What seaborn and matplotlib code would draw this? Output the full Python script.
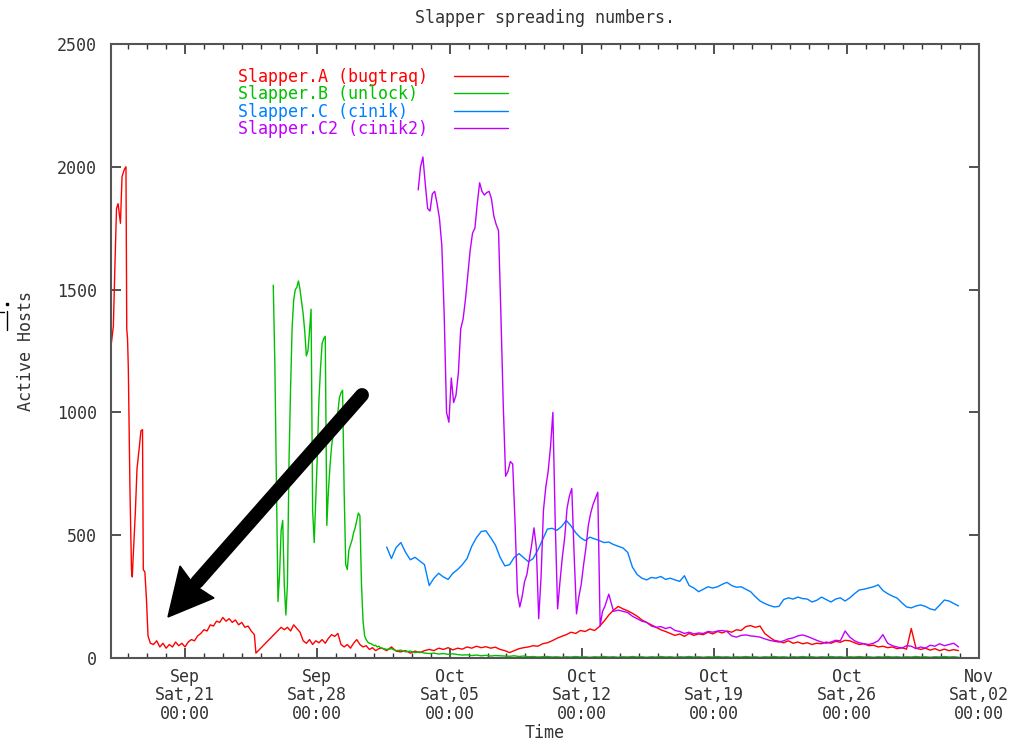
import pandas as pd
import matplotlib
matplotlib.use("Agg")
import matplotlib.pyplot as plt
import matplotlib.dates as mdates
from matplotlib.lines import Line2D
from matplotlib.patches import Polygon
import seaborn as sns

start = pd.Timestamp("2002-09-17 00:00")

# hours since start / number of active hosts
a_hours = ([2, 5, 7, 9, 11, 14, 16, 19, 21, 22, 23, 24, 26, 28, 29, 30, 33, 35, 38, 40, 42, 43, 45, 47, 49, 52]
           + list(range(56, 188, 4)) + [186]
           + list(range(218, 346, 4))
           + list(range(346, 1079, 6)))
a_hosts = [1270, 1350, 1600, 1830, 1850, 1770, 1960, 1990, 2000, 1340, 1300, 1180, 700, 360, 330, 400,
           600, 770, 860, 925, 930, 360, 350, 240, 90, 60,
           55, 70, 45, 60, 40, 55, 45, 65, 50, 60, 45, 65, 75, 70, 90, 100, 115, 110, 135, 130,
           150, 145, 165, 150, 160, 145, 155, 135, 145, 125, 130, 110, 95, 20,
           125, 115, 125, 110, 135, 120, 105, 70, 60, 75, 55, 70, 62, 75, 60, 80, 95, 88, 100, 55,
           45, 55, 40, 60, 75, 55, 45, 50, 35, 42, 30, 38,
           40, 30, 45, 28, 25, 30, 20, 28, 22, 30, 35, 30, 40, 35, 42, 33, 40, 36, 45, 40,
           48, 42, 46, 40, 44, 35, 30, 22, 30, 38, 42, 45, 50, 48, 58, 62, 70, 80, 88, 95,
           105, 100, 112, 108, 118, 112, 128, 150, 175, 195, 210, 200, 192, 182, 170, 155, 145, 135, 125, 115,
           108, 100, 92, 98, 88, 100, 92, 98, 95, 105, 98, 108, 102, 110, 105, 115, 112, 128, 132, 125,
           130, 100, 85, 72, 68, 62, 70, 60, 65, 58, 62, 55, 60, 58, 65, 60, 68, 64, 72, 70,
           62, 55, 58, 50, 52, 45, 48, 42, 45, 38, 42, 36, 120, 40, 35, 40, 32, 38, 30, 36,
           30, 34, 30]

b_hours = list(range(208, 346, 2)) + list(range(346, 1079, 6))
b_hosts = [1518, 1200, 700, 230, 340, 520, 560, 300, 175, 300, 800, 1100, 1350, 1460, 1500, 1510, 1535, 1500, 1450, 1400,
           1330, 1230, 1250, 1330, 1420, 600, 470, 650, 830, 1050, 1180, 1280, 1300, 1310, 540, 680, 780, 860, 910, 940,
           960, 1000, 1060, 1080, 1090, 680, 380, 360, 440, 460, 480, 510, 530, 560, 590, 580, 300, 150, 90, 75,
           65, 60, 58, 55, 50, 52, 45, 48, 42,
           40, 35, 38, 30, 32, 25, 28, 22, 25, 20, 18, 20, 16, 18, 15, 17, 14, 12, 13, 10,
           12, 9, 11, 8, 10, 9, 8, 7, 9, 6, 8, 5, 6, 4, 5, 6, 4, 5, 3, 5,
           4, 6, 4, 5, 3, 5, 4, 6, 4, 5, 3, 5, 4, 6, 4, 5, 3, 5, 4, 6,
           4, 5, 3, 5, 4, 6, 4, 5, 3, 5, 4, 6, 4, 5, 3, 5, 4, 6, 4, 5,
           3, 5, 4, 6, 4, 5, 3, 5, 4, 6, 4, 5, 3, 5, 4, 6, 4, 5, 3, 5,
           4, 6, 4, 5, 3, 5, 4, 6, 4, 5, 3, 5, 4, 6, 4, 5, 3, 5, 4, 6,
           4, 5, 3]

c_hours = list(range(352, 1079, 6))
c_hosts = [452, 405, 450, 470, 430, 400, 410, 395, 380, 295, 325, 345, 330, 320, 345, 360, 380, 405, 455, 490,
           515, 518, 490, 460, 410, 375, 380, 410, 425, 408, 392, 405, 440, 482, 525, 528, 520, 535, 560, 538,
           510, 490, 478, 492, 485, 478, 470, 472, 462, 455, 448, 430, 370, 340, 325, 318, 328, 325, 332, 320,
           325, 318, 312, 335, 295, 285, 270, 280, 290, 285, 290, 300, 308, 295, 288, 290, 280, 270, 250, 232,
           222, 214, 208, 210, 238, 245, 240, 248, 242, 240, 228, 235, 248, 238, 228, 240, 245, 232, 245, 262,
           277, 280, 285, 290, 298, 275, 262, 252, 244, 225, 208, 204, 212, 216, 210, 200, 195, 215, 236, 232,
           222, 212]

c2_hours = list(range(392, 630, 3)) + list(range(634, 1079, 6))
c2_hosts = [1906, 2000, 2040, 1930, 1830, 1820, 1890, 1900, 1850, 1790, 1680, 1400, 1000, 960, 1140, 1040, 1070, 1160, 1340, 1380,
            1460, 1560, 1660, 1730, 1750, 1850, 1935, 1900, 1885, 1895, 1900, 1870, 1800, 1765, 1740, 1400, 1030, 740, 760, 800,
            790, 550, 265, 208, 250, 310, 340, 400, 460, 530, 450, 160, 330, 600, 696, 760, 860, 1000, 550, 200,
            310, 410, 490, 610, 660, 690, 420, 180, 250, 300, 380, 450, 540, 590, 625, 650, 675, 130, 190, 210,
            260, 190, 195, 190, 185, 170, 160, 150, 145, 130, 125, 128, 120, 125, 112, 108, 100, 105, 98, 102,
            100, 108, 105, 110, 112, 108, 90, 85, 92, 94, 90, 88, 85, 78, 72, 68, 65, 70, 78, 82,
            90, 94, 88, 80, 72, 65, 60, 65, 72, 70, 110, 85, 70, 62, 58, 55, 60, 70, 95, 60,
            50, 45, 40, 50, 48, 38, 45, 40, 52, 48, 58, 50, 55, 60, 45]

labels = ["Slapper.A (bugtraq)", "Slapper.B (unlock)", "Slapper.C (cinik)", "Slapper.C2 (cinik2)"]
colors = ["#ff0000", "#00c000", "#0080ff", "#c000ff"]

frames = []
for lab, hrs, val in zip(labels, [a_hours, b_hours, c_hours, c2_hours], [a_hosts, b_hosts, c_hosts, c2_hosts]):
    frames.append(pd.DataFrame({"time": start + pd.to_timedelta(hrs, unit="h"), "hosts": val, "variant": lab}))
df = pd.concat(frames, ignore_index=True)

sns.set_style("ticks")
plt.rcParams["font.family"] = ["DejaVu Sans Mono"]
plt.rcParams["font.size"] = 12
ink = "#333333"

fig = plt.figure(figsize=(10.23, 7.41), dpi=100)
ax = fig.add_axes([111 / 1023, 83 / 741, 868 / 1023, 614 / 741])

# pad labels to the same length so the monospace legend text reads left-aligned
width = max(len(s) for s in labels)
for lab, col in zip(labels, colors):
    sns.lineplot(data=df[df["variant"] == lab], x="time", y="hosts", color=col,
                 linewidth=1.0, label=lab.ljust(width), estimator=None, ax=ax)

ax.set_xlim(start + pd.Timedelta(hours=2), pd.Timestamp("2002-11-02 00:00"))
ax.set_ylim(0, 2500)
ax.set_yticks(range(0, 2501, 500))
ax.xaxis.set_major_locator(mdates.WeekdayLocator(byweekday=mdates.SA))
ax.xaxis.set_minor_locator(mdates.DayLocator())
ax.xaxis.set_major_formatter(mdates.DateFormatter("%b\n%a,%d\n%H:%M"))

ax.tick_params(which="major", direction="in", length=7, width=1.2, top=True, right=True, colors=ink)
ax.tick_params(which="minor", direction="in", length=3.5, width=1.0, top=True, right=False, colors=ink)
ax.tick_params(axis="y", which="minor", left=False, right=False)
ax.tick_params(axis="y", pad=10)
ax.tick_params(axis="x", pad=7)
for sp in ax.spines.values():
    sp.set_color("#555555")
    sp.set_linewidth(1.5)

ax.set_title("Slapper spreading numbers.", pad=15, color=ink, fontsize=12)
ax.set_xlabel("Time", color=ink)
ax.set_ylabel("Active Hosts", color=ink)
ax.xaxis.set_label_coords(0.5, -0.107)
ax.yaxis.set_label_coords(-0.088, 0.5)

ax.legend(loc="upper left", bbox_to_anchor=(0.146, 0.961), frameon=False, markerfirst=False,
          labelcolor="linecolor", handlelength=3.2, handletextpad=1.6, labelspacing=-0.04,
          borderpad=0, borderaxespad=0, fontsize=12)

fig.canvas.draw()
for tick in ax.xaxis.get_major_ticks():
    tick.label1.set_linespacing(1.05)


def px(x, y):
    return x / 1023, 1 - y / 741


# big black arrow pasted over the chart
tail, base = px(362, 395), px(197, 582)
fig.add_artist(Line2D([tail[0], base[0]], [tail[1], base[1]], transform=fig.transFigure,
                      color="black", linewidth=10, solid_capstyle="round"))
fig.add_artist(Polygon([px(168, 617), px(180, 566), px(194, 585), px(214, 598)], closed=True,
                       transform=fig.transFigure, facecolor="black", edgecolor="black", linewidth=1))

# small clipped mark at the left edge
fig.add_artist(Line2D([px(0, 312)[0], px(4, 312)[0]], [px(0, 312)[1]] * 2, transform=fig.transFigure,
                      color="black", linewidth=1))
fig.add_artist(Line2D([px(7, 311)[0]] * 2, [px(7, 311)[1], px(7, 330)[1]], transform=fig.transFigure,
                      color="black", linewidth=1))
fig.add_artist(Line2D([px(7, 304)[0]], [px(7, 304)[1]], transform=fig.transFigure,
                      marker="s", markersize=1.5, color="black"))

fig.savefig("out.png", dpi=100)
